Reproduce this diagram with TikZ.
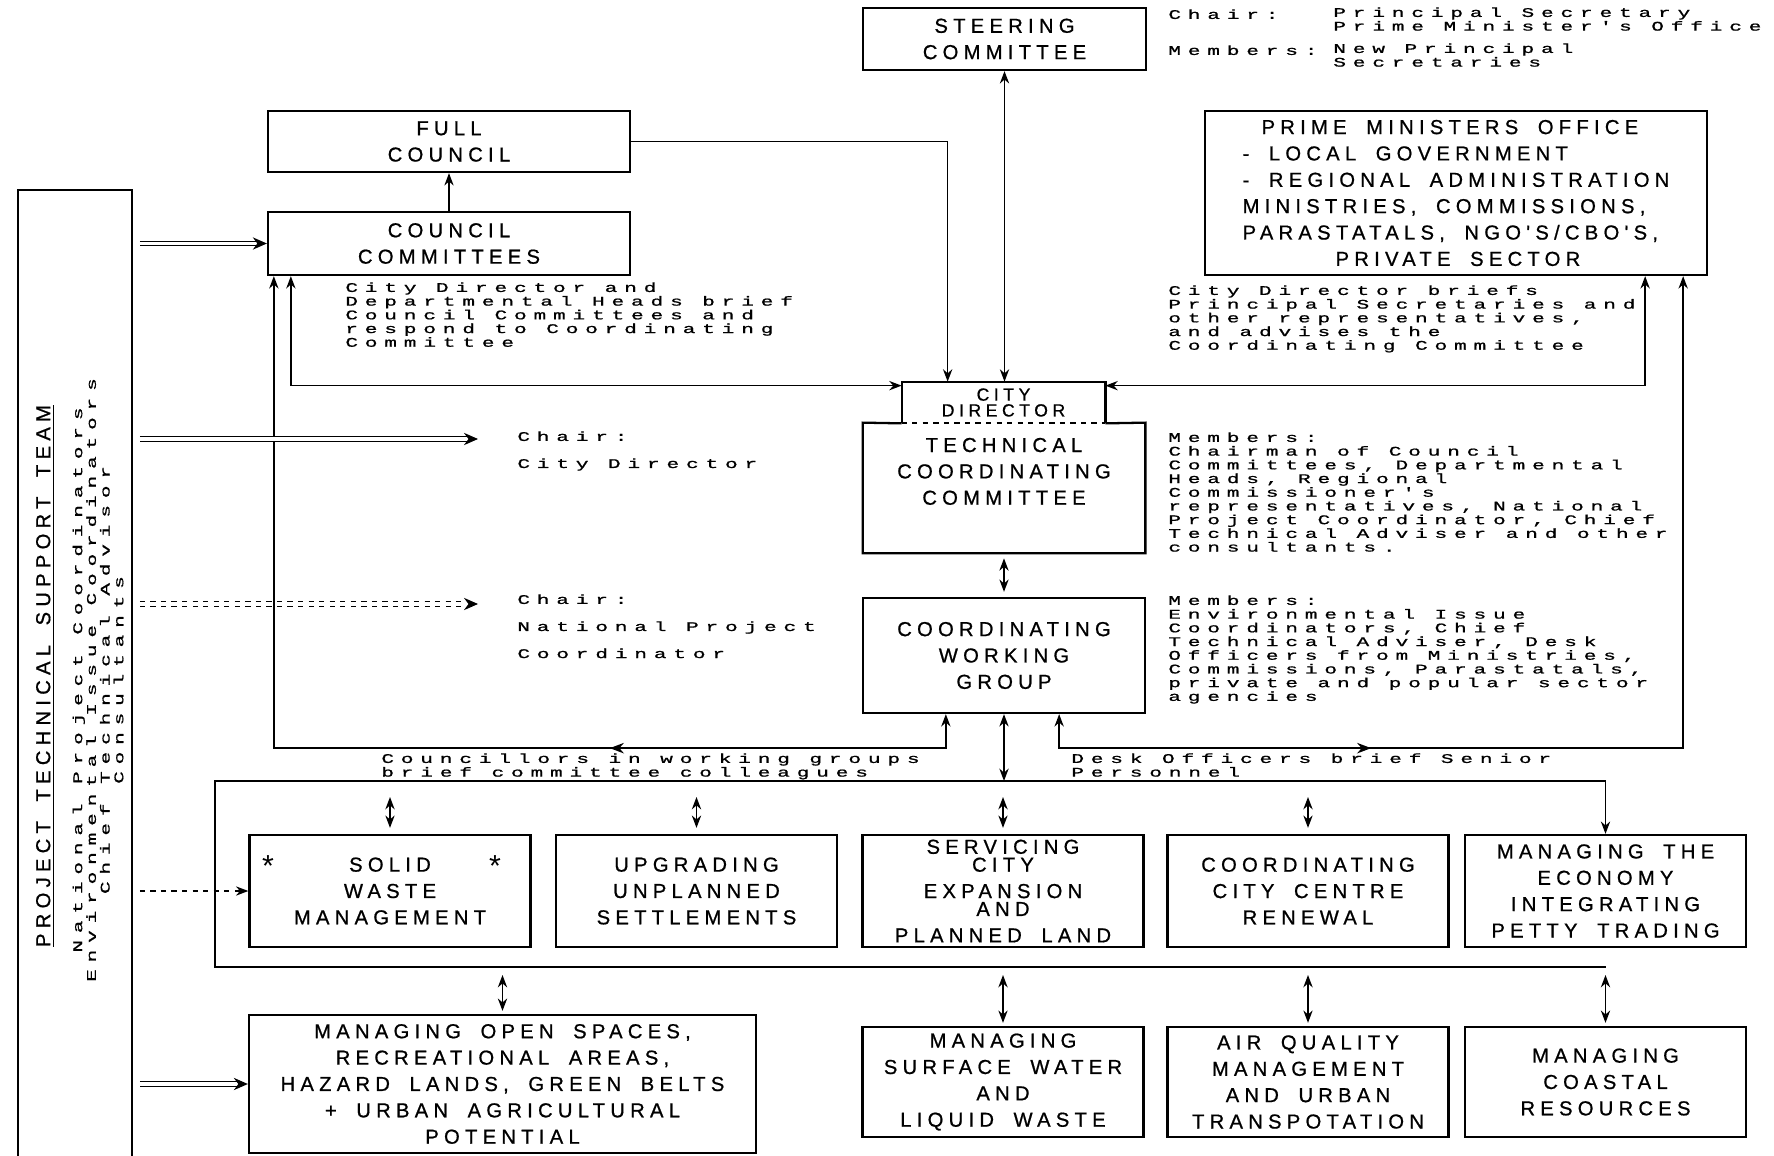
\documentclass[tikz,border=0pt]{standalone}
\usepackage{fontspec}
\setmainfont{Liberation Sans}
\newfontfamily\boxfont[LetterSpace=26,WordSpace=1.8,FakeBold=0.8]{Liberation Sans}
\newfontfamily\typefont[FakeStretch=1.6,LetterSpace=52,FakeBold=1]{Liberation Mono}
\usetikzlibrary{arrows.meta,calc}

\newcommand{\unitfont}{\boxfont\fontsize{11.5}{15}\selectfont}
\newcommand{\notefont}{\typefont\fontsize{7.5}{7.8}\selectfont}
\newcommand{\chairfont}{\typefont\fontsize{7.5}{15.4}\selectfont}

\begin{document}
\begin{tikzpicture}[x=0.2mm, y=-0.2mm, >=Stealth]
        \tikzset{
            unit/.style={
                    draw,
                    line width=1.3pt,
                    inner sep=0pt,
                    align=center,
                    font=\unitfont,
                },
            bare/.style={inner sep=0pt, align=center, font=\unitfont},
            rowunit/.style={unit, minimum width=5.62cm, minimum height=2.24cm},
            lowunit/.style={unit, minimum width=5.62cm, minimum height=2.2cm},
            note/.style={inner sep=0pt, align=left, anchor=north west, font=\notefont},
            link/.style={->, line width=0.9pt},
            both/.style={<->, line width=0.9pt},
            half/.style={-{Stealth[length=8pt, width=6pt]}, line width=0.9pt},
            upgap/.style={both, shorten <=3.2mm, shorten >=1.2mm},
            lowgap/.style={both, shorten <=1.6mm, shorten >=0.6mm},
            feed/.style={double, double distance=2.2pt, line width=0.6pt, shorten <=1.5mm, -{Stealth[length=8pt, width=7pt]}},
            dashfeed/.style={link, dashed, shorten <=1.5mm},
        }
        \useasboundingbox (0,0) rectangle (1774,1156);
        % \draw (0, 0) grid[step=100] (1774, 1156);

        % top of the chart
        \node[unit, minimum width=5.66cm, minimum height=1.24cm] (steer) at (1004.5,39) {STEERING\\COMMITTEE};
        \node[note] (stchairlbl) at (1168,9) {Chair:};
        \node[note] (stchairtxt) at (1333,7) {Principal Secretary\\Prime Minister's Office};
        \node[note] (stmemlbl) at (1168,45) {Members:};
        \node[note] (stmemtxt) at (1333,43) {New Principal\\Secretaries};

        \node[unit, minimum width=7.24cm, minimum height=1.22cm] (fc) at (449,141.5) {FULL\\COUNCIL};
        \node[unit, minimum width=7.24cm, minimum height=1.26cm] (cc) at (449,243.5) {COUNCIL\\COMMITTEES};
        \node[unit, align=left, minimum width=10.04cm, minimum height=3.28cm] (pmo) at (1456,193) {\hspace*{0.38cm}PRIME MINISTERS OFFICE\\- LOCAL GOVERNMENT\\- REGIONAL ADMINISTRATION\\MINISTRIES, COMMISSIONS,\\PARASTATALS, NGO'S/CBO'S,\\\hspace*{1.86cm}PRIVATE SECTOR};

        \node[note] (ccnote) at (345,282) {City Director and\\Departmental Heads brief\\Council Committees and\\respond to Coordinating\\Committee};
        \node[note] (pmonote) at (1168,285) {City Director briefs\\Principal Secretaries and\\other representatives,\\and advises the\\Coordinating Committee};

        % city director on the technical committee
        \node[bare, font=\boxfont\fontsize{10}{9}\selectfont, minimum width=4.06cm, minimum height=0.82cm] (cd) at (1003.5,402.5) {CITY\\DIRECTOR};
        \node[bare, minimum width=5.64cm, minimum height=2.6cm] (tcc) at (1004,488) {TECHNICAL\\COORDINATING\\COMMITTEE\\[4pt]};
        \draw[line width=1.3pt] (cd.south west) -- (cd.north west) -- (cd.north east) -- (cd.south east);
        \draw[line width=1.3pt] (cd.south west) -- (tcc.north west) -- (tcc.south west) -- (tcc.south east) -- (tcc.north east) -- (cd.south east);
        \draw[dashed, line width=1pt] (cd.south west) -- (cd.south east);
        \node[unit, minimum width=5.64cm, minimum height=2.3cm] (cwg) at (1004,655.5) {COORDINATING\\WORKING\\GROUP};

        \node[note, font=\chairfont] (tccchair) at (517,431) {Chair:\\City Director};
        \node[note, font=\chairfont] (cwgchair) at (517,594) {Chair:\\National Project\\Coordinator};
        \node[note] (tccmem) at (1168,432) {Members:\\Chairman of Council\\Committees, Departmental\\Heads, Regional\\Commissioner's\\representatives, National\\Project Coordinator, Chief\\Technical Adviser and other\\consultants.};
        \node[note] (cwgmem) at (1168,595) {Members:\\Environmental Issue\\Coordinators, Chief\\Technical Adviser, Desk\\Officers from Ministries,\\Commissions, Parastatals,\\private and popular sector\\agencies};
        \node[note] (ccbrief) at (381,753) {Councillors in working groups\\brief committee colleagues};
        \node[note] (pmobrief) at (1071,753) {Desk Officers brief Senior\\Personnel};

        % issue working groups
        \node[rowunit] (swm) at (390,891) {SOLID\\WASTE\\MANAGEMENT};
        \node[font=\LARGE] (swmmarkl) at (268,866) {*};
        \node[font=\LARGE] (swmmarkr) at (495,866) {*};
        \node[rowunit] (upg) at (696.5,891) {UPGRADING\\UNPLANNED\\SETTLEMENTS};
        \node[rowunit] (srv) at (1003,891) {SERVICING\\[-4.8pt]CITY\\EXPANSION\\[-4.8pt]AND\\PLANNED LAND};
        \node[rowunit] (ccr) at (1308,891) {COORDINATING\\CITY CENTRE\\RENEWAL};
        \node[rowunit] (mte) at (1605.5,891) {MANAGING THE\\ECONOMY\\INTEGRATING\\PETTY TRADING};

        \node[unit, minimum width=10.14cm, minimum height=2.76cm] (open) at (502.5,1084) {MANAGING OPEN SPACES,\\RECREATIONAL AREAS,\\HAZARD LANDS, GREEN BELTS\\+ URBAN AGRICULTURAL\\POTENTIAL};
        \node[lowunit] (swl) at (1003,1082) {MANAGING\\SURFACE WATER\\AND\\LIQUID WASTE};
        \node[lowunit] (aq) at (1308,1082) {AIR QUALITY\\MANAGEMENT\\AND URBAN\\TRANSPOTATION};
        \node[lowunit] (mcr) at (1605.5,1082) {MANAGING\\COASTAL\\RESOURCES};

        % support team on the left
        \node[bare, minimum width=2.28cm, minimum height=19.32cm] (ptst) at (75,673) {};
        \draw[line width=1.3pt] (ptst.south west) -- (ptst.north west) -- (ptst.north east) -- (ptst.south east);
        \node[bare, rotate=90] (ptsttitle) at (45,676) {\underline{PROJECT TECHNICAL SUPPORT TEAM}};
        \node[bare, rotate=90, font=\notefont] (ptstmem) at (98,680) {National Project Coordinators\\Environmental Issue Coordinators\\Chief Technical Advisor\\Consultants};
        \coordinate (tccfeed) at (478,439);
        \coordinate (cwgfeed) at (478,604);

        % connections
        \draw[link] (cc.north) -- (fc.south);
        \draw[link] (fc.east) -| ($(cd.north west)+(46,0)$);
        \draw[both] (steer.south) -- (steer.south |- cd.north);
        \draw[both] ($(cd.north west)+(0,4)$) -| ($(cc.south west)+(24,0)$);
        \draw[both] ($(cd.north east)+(0,4)$) -| ($(pmo.south east)+(-63,0)$);
        \draw[both, shorten <=1mm, shorten >=1mm] (tcc.south) -- (cwg.north);
        \draw[both] ($(cwg.south west)+(84,0)$) -- ++(0,34) coordinate (lturn) -| ($(cc.south west)+(7,0)$) coordinate (lend);
        \draw[half] (lturn) -- ($(lturn)!0.5!(lturn -| lend)$);
        \draw[both] ($(cwg.south east)+(-87,0)$) -- ++(0,34) coordinate (rturn) -| ($(pmo.south east)+(-25,0)$) coordinate (rend);
        \draw[half] (rturn) -- ($(rturn)!0.5!(rturn -| rend)$);

        \draw[feed] (ptst.east |- cc.west) -- (cc.west);
        \draw[feed] (ptst.east |- tccfeed) -- (tccfeed);
        \draw[feed, dashed] (ptst.east |- cwgfeed) -- (cwgfeed);
        \draw[dashfeed] (ptst.east |- swm.west) -- (swm.west);
        \draw[feed] (ptst.east |- open.west) -- (open.west);

        % the two rails round the working groups
        \coordinate (bustop) at (215,781);
        \coordinate (busbot) at (215,967);
        \draw[line width=0.9pt] (mte.north |- bustop) -- (bustop) -- (busbot) -- (mcr.north |- busbot);
        \draw[link] (mte.north |- bustop) -- (mte.north);
        \draw[both] (cwg.south) -- (cwg.south |- bustop);
        \foreach \grp in {swm, upg, srv, ccr}
            \draw[upgap] (\grp.north |- bustop) -- (\grp.north);
        \foreach \grp in {open, swl, aq, mcr}
            \draw[lowgap] (\grp.north |- busbot) -- (\grp.north);
    \end{tikzpicture}
\end{document}
